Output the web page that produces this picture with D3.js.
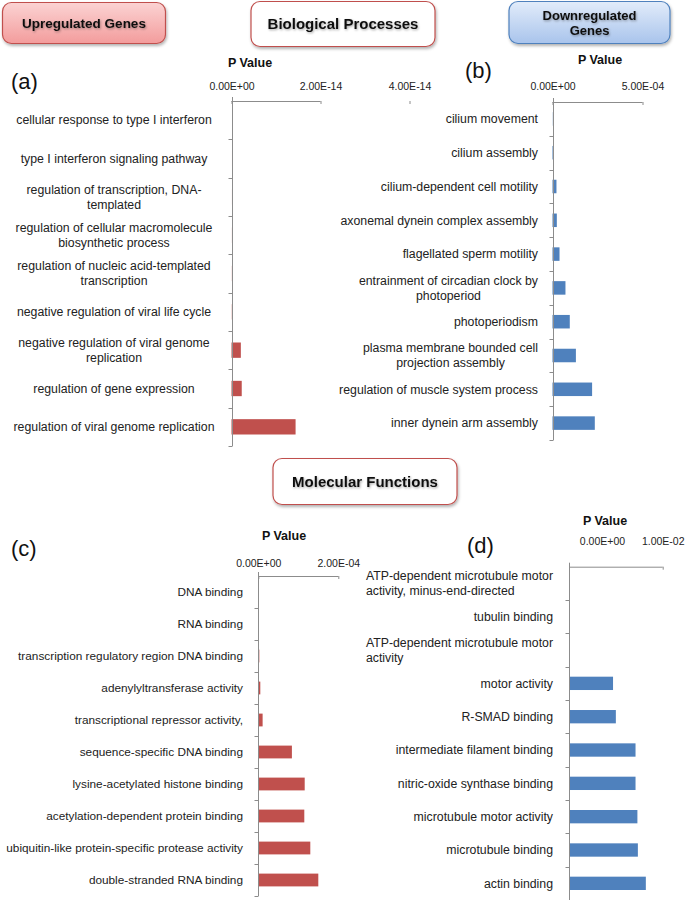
<!DOCTYPE html>
<html><head><meta charset="utf-8">
<script src="https://cdn.jsdelivr.net/npm/d3@7"></script>
<style>body{margin:0;background:#fff}svg{display:block}</style>
</head><body>
<svg id="chart" width="685" height="900"></svg>
<script>
// ---------- DATA ----------
const catsA = ["cellular response to type I interferon", "type I interferon signaling pathway",
  "regulation of transcription, DNA-\ntemplated", "regulation of cellular macromolecule\nbiosynthetic process",
  "regulation of nucleic acid-templated\ntranscription", "negative regulation of viral life cycle",
  "negative regulation of viral genome\nreplication", "regulation of gene expression",
  "regulation of viral genome replication"];
const valsA = [1e-18, 3e-18, 8e-18, 1.5e-17, 2.5e-17, 4e-17, 2.1e-15, 2.3e-15, 1.44e-14];
const ticksA = [0, 2e-14, 4e-14];
const tickLabelsA = ["0.00E+00", "2.00E-14", "4.00E-14"];

const catsB = ["cilium movement", "cilium assembly", "cilium-dependent cell motility",
  "axonemal dynein complex assembly", "flagellated sperm motility",
  "entrainment of circadian clock by\nphotoperiod", "photoperiodism",
  "plasma membrane bounded cell\nprojection assembly", "regulation of muscle system process",
  "inner dynein arm assembly"];
const valsB = [1e-6, 5.5e-6, 2.2e-5, 2.4e-5, 3.9e-5, 7.2e-5, 9.6e-5, 1.3e-4, 2.2e-4, 2.35e-4];
const ticksB = [0, 5e-4];
const tickLabelsB = ["0.00E+00", "5.00E-04"];

const catsC = ["DNA binding", "RNA binding", "transcription regulatory region DNA binding",
  "adenylyltransferase activity", "transcriptional repressor activity,",
  "sequence-specific DNA binding", "lysine-acetylated histone binding",
  "acetylation-dependent protein binding", "ubiquitin-like protein-specific protease activity",
  "double-stranded RNA binding"];
const valsC = [5e-7, 1e-6, 2.5e-6, 5e-6, 1.08e-5, 8.4e-5, 1.16e-4, 1.15e-4, 1.3e-4, 1.5e-4];
const ticksC = [0, 2e-4];
const tickLabelsC = ["0.00E+00", "2.00E-04"];

const catsD = ["ATP-dependent microtubule motor\nactivity, minus-end-directed", "tubulin binding",
  "ATP-dependent microtubule motor\nactivity", "motor activity", "R-SMAD binding",
  "intermediate filament binding", "nitric-oxide synthase binding",
  "microtubule motor activity", "microtubule binding", "actin binding"];
const valsD = [1e-5, 2e-5, 4e-5, 4.7e-3, 5.0e-3, 7.1e-3, 7.1e-3, 7.3e-3, 7.35e-3, 8.2e-3];
const ticksD = [0, 1e-2];
const tickLabelsD = ["0.00E+00", "1.00E-02"];

const headers = ["Upregulated Genes", "Biological Processes", "Downregulated\nGenes", "Molecular Functions"];
const panelLetters = ["(a)", "(b)", "(c)", "(d)"];
const axisTitle = "P Value";

// ---------- DRAW ----------
const FONT = "'Liberation Sans', Arial, sans-serif";
const RED = "#c0504d", BLUE = "#4f81bd", AXIS = "#8c8c8c";
const svg = d3.select("#chart");
svg.append("rect").attr("width", 685).attr("height", 900).attr("fill", "#fff");

const defs = svg.append("defs");
function grad(id, c1, c2) {
  const g = defs.append("linearGradient").attr("id", id).attr("x1", 0).attr("y1", 0).attr("x2", 0).attr("y2", 1);
  g.append("stop").attr("offset", "0%").attr("stop-color", c1);
  g.append("stop").attr("offset", "100%").attr("stop-color", c2);
}
grad("gPink", "#fbd3d3", "#f39c9c");
grad("gBlue", "#e2ecfa", "#a9c4ec");
const sh = defs.append("filter").attr("id", "shadow").attr("x", "-10%").attr("y", "-10%").attr("width", "130%").attr("height", "140%");
sh.append("feDropShadow").attr("dx", 1).attr("dy", 2).attr("stdDeviation", 1.5).attr("flood-color", "#000").attr("flood-opacity", 0.3);
const tsh = defs.append("filter").attr("id", "tshadow").attr("x", "-5%").attr("y", "-20%").attr("width", "110%").attr("height", "160%");
tsh.append("feDropShadow").attr("dx", 0.8).attr("dy", 1.2).attr("stdDeviation", 0.8).attr("flood-color", "#000").attr("flood-opacity", 0.35);

function headerBox(text, x, y, w, h, fill, stroke, fs) {
  const g = svg.append("g");
  g.append("rect").attr("x", x).attr("y", y).attr("width", w).attr("height", h)
    .attr("rx", 9).attr("ry", 9).attr("fill", fill).attr("stroke", stroke).attr("stroke-width", 1.2)
    .attr("filter", "url(#shadow)");
  const lines = text.split("\n");
  const lh = fs * 1.18;
  const cy = y + h / 2;
  lines.forEach((l, i) => {
    g.append("text").attr("x", x + w / 2).attr("y", cy + (i - (lines.length - 1) / 2) * lh)
      .attr("dy", "0.36em").attr("text-anchor", "middle")
      .attr("font-family", FONT).attr("font-weight", "bold").attr("font-size", fs)
      .attr("fill", "#111").attr("filter", "url(#tshadow)").text(l);
  });
}
headerBox(headers[0], 2.5, 2.5, 163, 41, "url(#gPink)", "#c0504d", 13.5);
headerBox(headers[1], 251, 1.5, 184, 45, "#fff", "#c0504d", 15);
headerBox(headers[2], 509, 1.5, 161, 42, "url(#gBlue)", "#4f81bd", 13);
headerBox(headers[3], 273, 458.5, 184, 46, "#fff", "#c0504d", 15);

function panel(cfg) {
  const g = svg.append("g");
  const x = d3.scaleLinear().domain([0, cfg.ticks[1]]).range([cfg.x0, cfg.x1]);
  const y = d3.scaleBand().domain(cfg.cats).range([cfg.top, cfg.bottom]).paddingInner(0.6).paddingOuter(0.3);
  const step = y.step();

  // bars
  g.selectAll("rect.bar").data(cfg.cats).join("rect").attr("class", "bar")
    .attr("x", x(0)).attr("y", d => y(d))
    .attr("width", (d, i) => Math.max(0, x(cfg.vals[i]) - x(0)))
    .attr("height", y.bandwidth()).attr("fill", cfg.color);

  // x axis (top)
  const ax = g.append("g").attr("transform", `translate(0,${cfg.top})`)
    .call(d3.axisTop(x).tickValues(cfg.ticks).tickFormat((d, i) => cfg.tickLabels[i])
      .tickSizeInner(-3).tickSizeOuter(0).tickPadding(cfg.tickPad));
  ax.select(".domain").attr("d", `M${x(0)},0.5H${x(cfg.domainEnd)}`).attr("stroke", AXIS);
  ax.selectAll(".tick line").attr("stroke", AXIS);
  ax.selectAll(".tick text").attr("font-family", FONT).attr("font-size", 10.5).attr("fill", "#222")
    .attr("dx", (d, i) => (i === 0 && cfg.firstLabelShift) ? cfg.firstLabelShift : 0);

  // y axis line and category ticks
  const x0 = Math.round(x(0)) + 0.5;
  g.append("line").attr("x1", x0).attr("x2", x0).attr("y1", cfg.top - 4).attr("y2", cfg.bottom)
    .attr("stroke", AXIS);
  g.selectAll("line.ct").data(d3.range(1, cfg.cats.length + 1)).join("line").attr("class", "ct")
    .attr("x1", x0 - 4).attr("x2", x0)
    .attr("y1", i => Math.round(y(cfg.cats[i - 1]) - step * y.paddingInner() / 2 + step) + 0.5)
    .attr("y2", i => Math.round(y(cfg.cats[i - 1]) - step * y.paddingInner() / 2 + step) + 0.5)
    .attr("stroke", AXIS);

  // category labels
  const lh = 15;
  cfg.cats.forEach(c => {
    const lines = c.split("\n");
    const cy = y(c) + y.bandwidth() / 2;
    const texts = lines.map((l, i) => g.append("text")
      .attr("y", cy + (i - (lines.length - 1) / 2) * lh).attr("dy", "0.35em")
      .attr("font-family", FONT).attr("font-size", cfg.fs).attr("fill", "#222").text(l));
    const widths = texts.map(t => t.node().getComputedTextLength());
    const maxW = d3.max(widths);
    texts.forEach((t, i) => {
      if (cfg.align === "center") t.attr("x", cfg.lx).attr("text-anchor", "middle");
      else if (cfg.align === "right") t.attr("x", cfg.lx).attr("text-anchor", "end");
      else if (cfg.align === "blockCenter") t.attr("x", cfg.lx - maxW / 2).attr("text-anchor", "middle");
      else if (cfg.align === "blockLeft") t.attr("x", cfg.lx - maxW).attr("text-anchor", "start");
    });
  });

  // axis title and panel letter
  g.append("text").attr("x", cfg.ptx).attr("y", cfg.pty).attr("text-anchor", "middle")
    .attr("font-family", FONT).attr("font-weight", "bold").attr("font-size", 12.5).attr("fill", "#111")
    .text(axisTitle);
  g.append("text").attr("x", cfg.letterX).attr("y", cfg.letterY)
    .attr("font-family", FONT).attr("font-size", 22).attr("fill", "#111").text(cfg.letter);
}

panel({cats: catsA, vals: valsA, ticks: ticksA, tickLabels: tickLabelsA, color: RED,
  x0: 231.5, x1: 320.5, domainEnd: 2e-14, top: 101, bottom: 446, tickPad: 11,
  align: "center", lx: 114, fs: 12.3, ptx: 250, pty: 67, letter: panelLetters[0], letterX: 11, letterY: 89});
panel({cats: catsB, vals: valsB, ticks: ticksB, tickLabels: tickLabelsB, color: BLUE,
  x0: 552.5, x1: 642.5, domainEnd: 5e-4, top: 102, bottom: 440, tickPad: 12,
  align: "blockCenter", lx: 538, fs: 12.3, ptx: 600, pty: 64, letter: panelLetters[1], letterX: 465, letterY: 78});
panel({cats: catsC, vals: valsC, ticks: ticksC, tickLabels: tickLabelsC, color: RED,
  x0: 258.3, x1: 338.3, domainEnd: 2e-4, top: 576, bottom: 896, tickPad: 9,
  align: "right", lx: 243, fs: 11.8, ptx: 284, pty: 540, letter: panelLetters[2], letterX: 11, letterY: 556});
panel({cats: catsD, vals: valsD, ticks: ticksD, tickLabels: tickLabelsD, color: BLUE,
  x0: 569, x1: 662.7, domainEnd: 1e-2, top: 566.7, bottom: 900, tickPad: 22, firstLabelShift: 33,
  align: "blockLeft", lx: 553, fs: 12.3, ptx: 605, pty: 525, letter: panelLetters[3], letterX: 467, letterY: 553});
</script>
</body></html>
